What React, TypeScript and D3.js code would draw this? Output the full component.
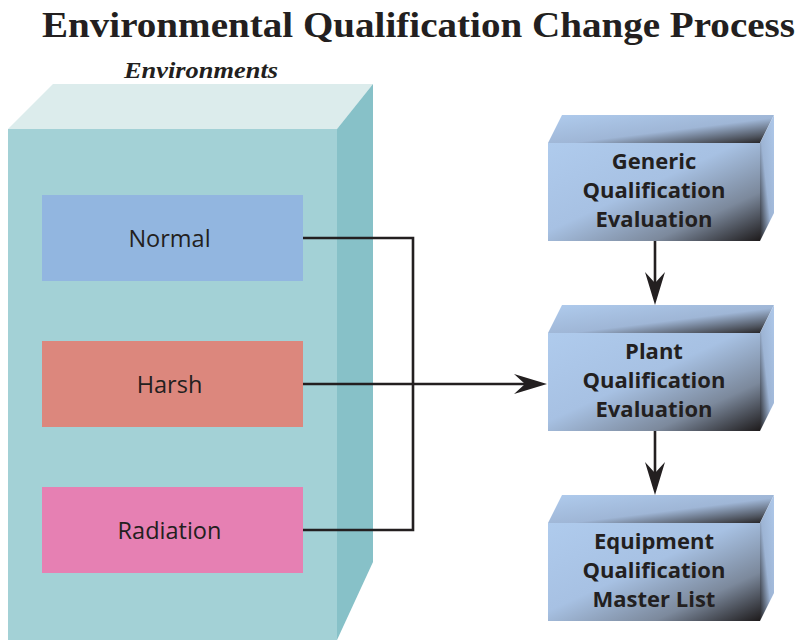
import * as d3 from "d3";

// environment categories and their fill colours
const envLabels = ["Normal", "Harsh", "Radiation"];
const envColors = ["#92b6e0", "#dc877d", "#e680b3"];

// stages of the qualification process (one entry = one 3D box)
const stageLines = [
  ["Generic", "Qualification", "Evaluation"],
  ["Plant", "Qualification", "Evaluation"],
  ["Equipment", "Qualification", "Master List"],
];

const title = "Environmental Qualification Change Process";
const subtitle = "Environments";

const W = 805;
const H = 640;
const ink = "#231f20";

// big environment box
const big = { x: 8, y: 129, w: 329, h: 520, dx: 36, dy: 45 };

// inner environment boxes
const envX = 42;
const envW = 261;
const envH = 86;
const envY = d3.scaleLinear().domain([0, 2]).range([195, 487]);

// stage boxes
const stX = 548;
const stW = 212;
const stH = 98;
const stDx = 14;
const stDy = 28;
const stY = d3.scaleLinear().domain([0, 2]).range([143, 523]);

const busX = 413;

// notched arrowhead with tip at (x,y) pointing in direction angle (radians)
function arrowHead(x: number, y: number, ang: number) {
  const pts = [
    [0, 0],
    [-33, -10],
    [-22, 0],
    [-33, 10],
  ].map(([px, py]) => [
    x + px * Math.cos(ang) - py * Math.sin(ang),
    y + px * Math.sin(ang) + py * Math.cos(ang),
  ]);
  const p = d3.path();
  p.moveTo(pts[0][0], pts[0][1]);
  pts.slice(1).forEach(([a, b]) => p.lineTo(a, b));
  p.closePath();
  return p.toString();
}

function poly(pts: number[][]) {
  return (d3.line()(pts as [number, number][]) || "") + "Z";
}

export default function App() {
  const envMid = (i: number) => envY(i) + envH / 2;
  const stMidY = (i: number) => stY(i) + stH / 2;
  const harshY = envMid(1);

  return (
    <svg
      width={W}
      height={H}
      style={{ position: "absolute", left: 0, top: 0, background: "#fff" }}
    >
      <defs>
        <linearGradient id="frontG" x1="0" y1="0" x2="1" y2="1">
          <stop offset="0" stopColor="#afcbed" />
          <stop offset="0.45" stopColor="#a7c1e3" />
          <stop offset="0.75" stopColor="#7c899c" />
          <stop offset="1" stopColor="#1e1b1c" />
        </linearGradient>
        <linearGradient id="topG" x1="0" y1="0" x2="1" y2="1">
          <stop offset="0" stopColor="#afcbed" />
          <stop offset="0.55" stopColor="#9fb6d6" />
          <stop offset="0.85" stopColor="#4d525c" />
          <stop offset="1" stopColor="#1e1b1c" />
        </linearGradient>
        <linearGradient id="sideG" x1="1" y1="0" x2="0" y2="1">
          <stop offset="0" stopColor="#aec8ea" />
          <stop offset="0.55" stopColor="#9db4d4" />
          <stop offset="1" stopColor="#232224" />
        </linearGradient>
      </defs>

      <text
        x={42}
        y={37}
        textLength={753}
        lengthAdjust="spacingAndGlyphs"
        fontFamily="'Liberation Serif', serif"
        fontWeight="bold"
        fontSize={35}
        fill={ink}
      >
        {title}
      </text>
      <text
        x={124}
        y={78}
        textLength={154}
        lengthAdjust="spacingAndGlyphs"
        fontFamily="'Liberation Serif', serif"
        fontStyle="italic"
        fontWeight="bold"
        fontSize={24}
        fill={ink}
      >
        {subtitle}
      </text>

      {/* big 3D environment box */}
      <path
        d={poly([
          [big.x, big.y],
          [big.x + big.dx + 9, big.y - big.dy],
          [big.x + big.w + big.dx, big.y - big.dy],
          [big.x + big.w, big.y],
        ])}
        fill="#dcecec"
      />
      <path
        d={poly([
          [big.x + big.w, big.y],
          [big.x + big.w + big.dx, big.y - big.dy],
          [big.x + big.w + big.dx, 562],
          [big.x + big.w, 640],
        ])}
        fill="#87c1c8"
      />
      <rect x={big.x} y={big.y} width={big.w} height={big.h} fill="#a3d1d6" />

      {envLabels.map((lab, i) => (
        <g key={lab}>
          <rect x={envX} y={envY(i)} width={envW} height={envH} fill={envColors[i]} />
          <text
            x={envX + envW / 2 - 3}
            y={envMid(i) + 1}
            dy="0.35em"
            textAnchor="middle"
            fontFamily="'Open Sans', sans-serif"
            fontSize={23.5}
            fill={ink}
          >
            {lab}
          </text>
        </g>
      ))}

      {/* connectors */}
      <path
        d={`M${envX + envW},${envMid(0)}H${busX}V${envMid(2)}H${envX + envW}`}
        fill="none"
        stroke={ink}
        strokeWidth={2.6}
      />
      <path
        d={`M${envX + envW},${harshY}H${stX - 20}`}
        fill="none"
        stroke={ink}
        strokeWidth={2.6}
      />
      <path d={arrowHead(stX - 1, harshY, 0)} fill={ink} />

      {stageLines.slice(1).map((_, i) => {
        const x = stX + stW / 2 + 1;
        const y0 = stY(i) + stH;
        const y1 = stY(i + 1) - stDy;
        return (
          <g key={"a" + i}>
            <path d={`M${x},${y0}V${y1 - 20}`} stroke={ink} strokeWidth={2.6} />
            <path d={arrowHead(x, y1, Math.PI / 2)} fill={ink} />
          </g>
        );
      })}

      {/* stage boxes */}
      {stageLines.map((lines, i) => {
        const y = stY(i);
        return (
          <g key={"s" + i}>
            <path
              d={poly([
                [stX, y],
                [stX + stDx, y - stDy],
                [stX + stW + stDx, y - stDy],
                [stX + stW, y],
              ])}
              fill="url(#topG)"
            />
            <path
              d={poly([
                [stX + stW, y],
                [stX + stW + stDx, y - stDy],
                [stX + stW + stDx, y + stH - stDy],
                [stX + stW, y + stH],
              ])}
              fill="url(#sideG)"
            />
            <rect x={stX} y={y} width={stW} height={stH} fill="url(#frontG)" />
            {lines.map((ln, j) => (
              <text
                key={j}
                x={stX + stW / 2}
                y={stMidY(i) + (j - 1) * 29 - 2}
                dy="0.35em"
                textAnchor="middle"
                fontFamily="'Open Sans', sans-serif"
                fontWeight="bold"
                fontSize={22}
                fill={ink}
              >
                {ln}
              </text>
            ))}
          </g>
        );
      })}
    </svg>
  );
}
